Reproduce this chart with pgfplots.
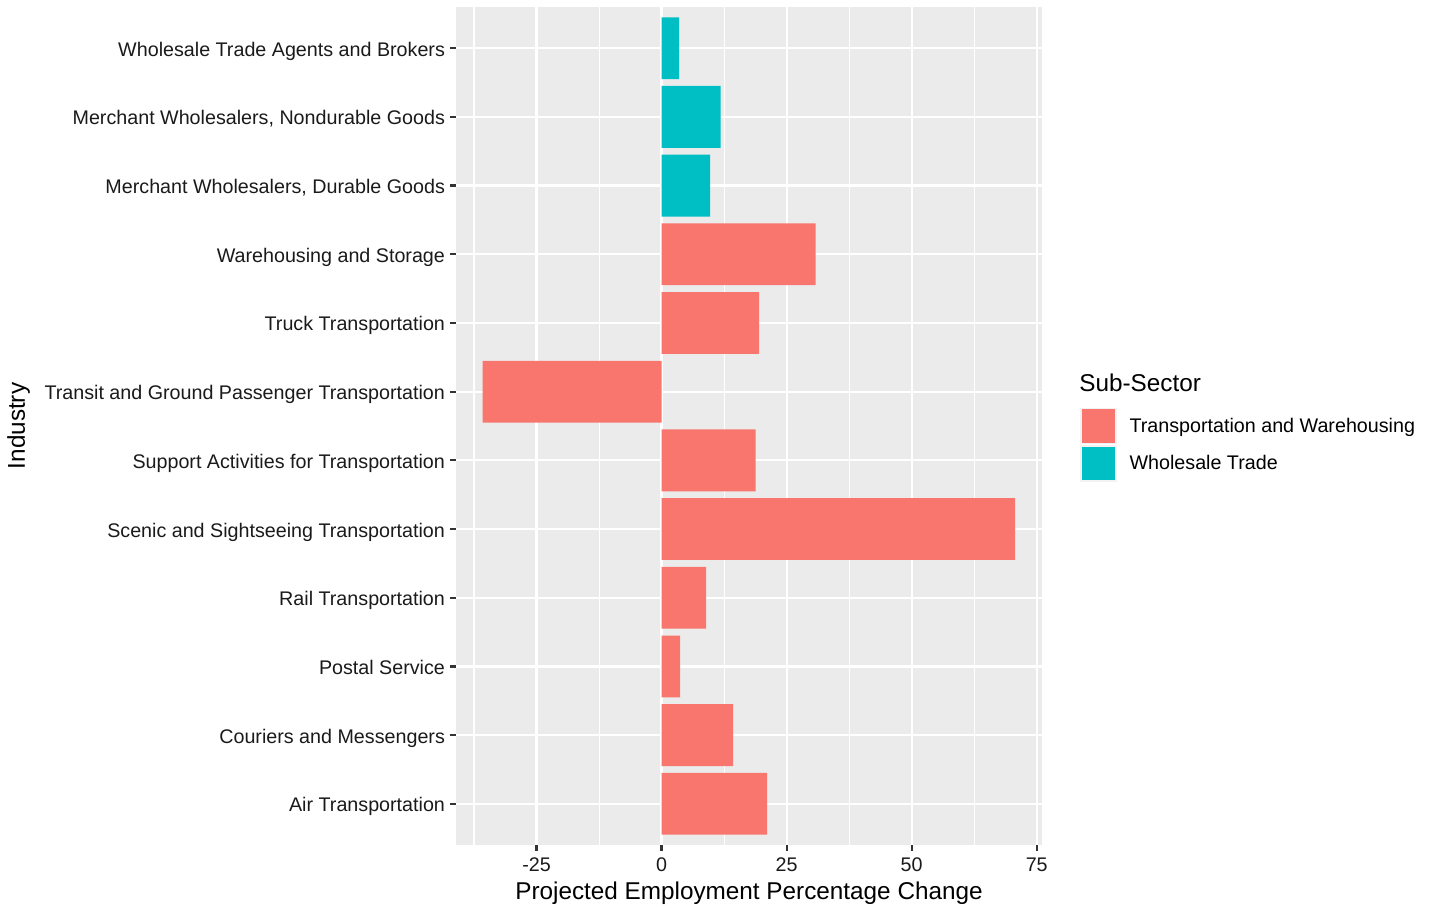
\documentclass[border=0pt]{standalone}
\usepackage{pgfplots}
\pgfplotsset{compat=1.18}
\usepackage{fontspec}
\setmainfont{Liberation Sans}
\definecolor{panelbg}{HTML}{EBEBEB}
\definecolor{twcol}{HTML}{F8766D}
\definecolor{wtcol}{HTML}{00BFC4}
\definecolor{ticktext}{HTML}{1A1A1A}
\definecolor{tickline}{HTML}{333333}
\definecolor{keyedge}{HTML}{F2F2F2}

\begin{document}
\begin{tikzpicture}
  \begin{axis}[
    at={(0,0)}, anchor=south west,
    scale only axis,
    width=293pt, height=419pt,
    xmin=-41.1, xmax=76.05,
    ymin=0.4, ymax=12.6,
    clip=false,
    axis background/.style={fill=panelbg},
    axis line style={draw=none},
    xtick={-25,0,25,50,75},
    xticklabels={-25,0,25,50,75},
    minor xtick={-37.5,-12.5,12.5,37.5,62.5},
    ytick={1,2,3,4,5,6,7,8,9,10,11,12},
    yticklabels={
      Air Transportation,
      Couriers and Messengers,
      Postal Service,
      Rail Transportation,
      Scenic and Sightseeing Transportation,
      Support Activities for Transportation,
      Transit and Ground Passenger Transportation,
      Truck Transportation,
      Warehousing and Storage,
      {Merchant Wholesalers, Durable Goods},
      {Merchant Wholesalers, Nondurable Goods},
      Wholesale Trade Agents and Brokers},
    xmajorgrids, xminorgrids, ymajorgrids,
    major grid style={white, line width=1.1pt},
    minor grid style={white, line width=0.55pt},
    tick align=outside,
    major tick length=3pt, minor tick length=0pt,
    tick style={tickline, line width=1.1pt},
    xtick pos=bottom, ytick pos=left,
    ticklabel style={font=\fontsize{9.85}{11}\selectfont, text=ticktext},
    yticklabel style={anchor=base east, yshift=-0.4em, xshift=1pt},
    xlabel={Projected Employment Percentage Change},
    ylabel={Industry},
    label style={font=\fontsize{12.15}{14}\selectfont},
    xlabel style={at={(rel axis cs:0.5,-0.057)}, anchor=center},
    ylabel style={at={(rel axis cs:-0.7466,0.5)}, anchor=center, rotate=0},
    legend style={at={(1.0648,0.5216)}, anchor=north west,
      draw=none, fill=none, inner sep=0pt,
      font=\fontsize{9.85}{11}\selectfont,
      nodes={inner sep=0pt, text=black},
      row sep=0.5pt,
      /tikz/every odd column/.style={column sep=6.5pt}},
    legend cell align=left,
  ]
    \addplot[xbar, bar width=0.9, bar shift=0pt, fill=twcol, draw=none, forget plot]
      coordinates {(21.1,1) (14.3,2) (3.7,3) (8.9,4) (70.7,5) (18.8,6)
                   (-35.8,7) (19.5,8) (30.8,9)};
    \addplot[xbar, bar width=0.9, bar shift=0pt, fill=wtcol, draw=none, forget plot]
      coordinates {(9.7,10) (11.8,11) (3.5,12)};

    \addlegendimage{legend image code/.code={\filldraw[fill=twcol, draw=keyedge, line width=0.6pt] (0pt,-8.75pt) rectangle (17.5pt,8.75pt);}}
    \addlegendentry{Transportation and Warehousing}
    \addlegendimage{legend image code/.code={\filldraw[fill=wtcol, draw=keyedge, line width=0.6pt] (0pt,-8.75pt) rectangle (17.5pt,8.75pt);}}
    \addlegendentry{Wholesale Trade}

    \node[anchor=base west, inner sep=0pt, font=\fontsize{12.15}{14}\selectfont]
      at (rel axis cs:1.0631,0.5406) {Sub-Sector};
  \end{axis}
  \pgfresetboundingbox
  \path[use as bounding box] (-228pt,-31pt) rectangle (489pt,422.5pt);
\end{tikzpicture}
\end{document}
